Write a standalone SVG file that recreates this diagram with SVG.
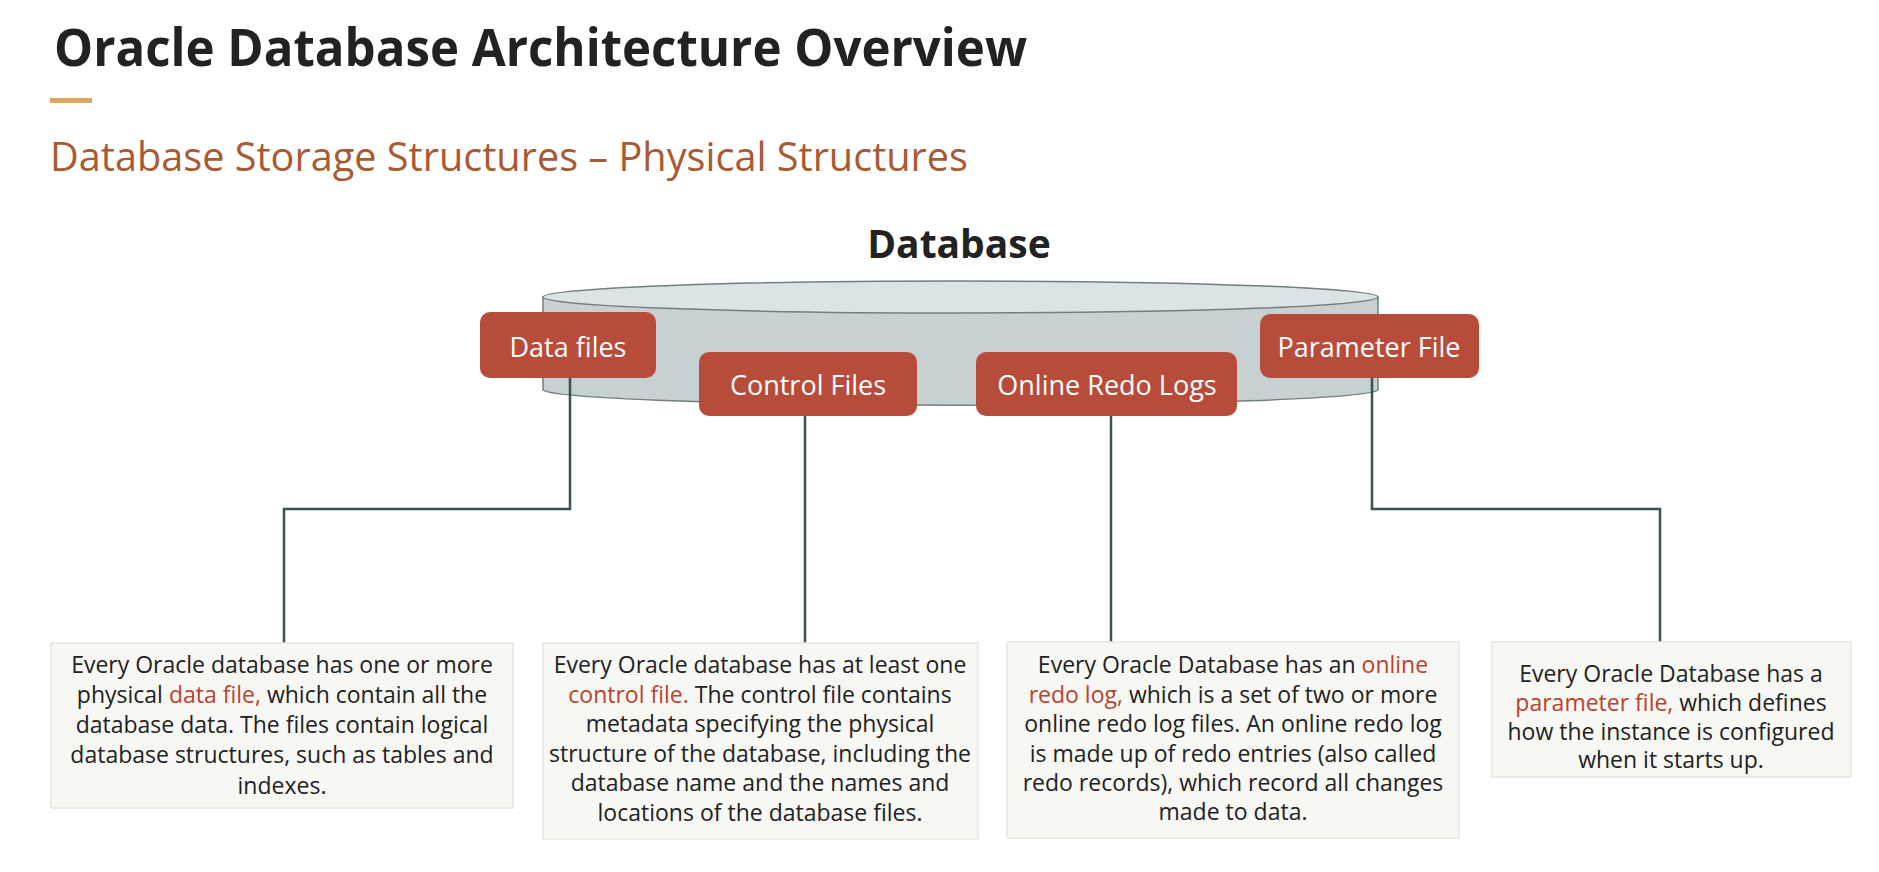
<svg xmlns="http://www.w3.org/2000/svg" width="1879" height="872" viewBox="0 0 1879 872">
<style>
.title{font-family:"Open Sans","Noto Sans",sans-serif;font-weight:700;fill:#222;}
.sub{font-family:"Open Sans","Noto Sans",sans-serif;font-weight:400;fill:#a85a33;}
.lbl{font-family:"Open Sans","Noto Sans",sans-serif;font-size:27px;fill:#fff;text-anchor:middle;}
.red{fill:#b84c3b;}
.desc{fill:#f7f7f4;stroke:#e6e6e1;stroke-width:1.5;}
.body{font-family:"Open Sans","Noto Sans",sans-serif;font-size:23px;fill:#222;text-anchor:middle;}
.hl{fill:#b8432f;}
.conn{fill:none;stroke:#3b5253;stroke-width:2.5;}
</style>
<rect width="1879" height="872" fill="#fff"/>
<g id="header">
<text class="title" x="54" y="66" font-size="52" textLength="973" lengthAdjust="spacingAndGlyphs">Oracle Database Architecture Overview</text>
<rect x="50" y="98" width="42" height="5" fill="#d9a75d"/>
<text class="sub" x="50" y="171" font-size="40" textLength="918" lengthAdjust="spacingAndGlyphs">Database Storage Structures – Physical Structures</text>
</g>
<g id="database">
<text class="title" x="959" y="258" font-size="39" text-anchor="middle">Database</text>
<path d="M543 297 L543 390 A418 16 0 0 0 1378 390 L1378 297 Z" fill="#c7d1d2" stroke="#71807f" stroke-width="1.5"/>
<ellipse cx="960.5" cy="297" rx="417.5" ry="16" fill="#dce3e4" stroke="#71807f" stroke-width="1.5"/>
</g>
<g id="connectors">
<polyline class="conn" points="570,378 570,509 284,509 284,643"/>
<polyline class="conn" points="805,416 805,643"/>
<polyline class="conn" points="1111,416 1111,643"/>
<polyline class="conn" points="1372,378 1372,509 1660,509 1660,642"/>
</g>
<g id="data-files">
<rect class="red" x="480" y="312" width="176" height="66" rx="10"/>
<text class="lbl" x="568" y="357">Data files</text>
</g>
<g id="control-files">
<rect class="red" x="699" y="352" width="218" height="64" rx="10"/>
<text class="lbl" x="808" y="395">Control Files</text>
</g>
<g id="online-redo-logs">
<rect class="red" x="976" y="352" width="261" height="64" rx="10"/>
<text class="lbl" x="1107" y="395">Online Redo Logs</text>
</g>
<g id="parameter-file">
<rect class="red" x="1260" y="314" width="219" height="64" rx="10"/>
<text class="lbl" x="1369" y="357">Parameter File</text>
</g>
<g id="desc-data-files">
<rect class="desc" x="51" y="643" width="462" height="165"/>
<text class="body" x="282" y="673">Every Oracle database has one or more</text>
<text class="body" x="282" y="703">physical <tspan class="hl">data file,</tspan> which contain all the</text>
<text class="body" x="282" y="733">database data. The files contain logical</text>
<text class="body" x="282" y="763">database structures, such as tables and</text>
<text class="body" x="282" y="794">indexes.</text>
</g>
<g id="desc-control-files">
<rect class="desc" x="543" y="643" width="435" height="196"/>
<text class="body" x="760" y="673">Every Oracle database has at least one</text>
<text class="body" x="760" y="703"><tspan class="hl">control file.</tspan> The control file contains</text>
<text class="body" x="760" y="732">metadata specifying the physical</text>
<text class="body" x="760" y="762">structure of the database, including the</text>
<text class="body" x="760" y="791">database name and the names and</text>
<text class="body" x="760" y="821">locations of the database files.</text>
</g>
<g id="desc-online-redo-logs">
<rect class="desc" x="1007" y="642" width="452" height="196"/>
<text class="body" x="1233" y="673">Every Oracle Database has an <tspan class="hl">online</tspan></text>
<text class="body" x="1233" y="703"><tspan class="hl">redo log,</tspan> which is a set of two or more</text>
<text class="body" x="1233" y="732">online redo log files. An online redo log</text>
<text class="body" x="1233" y="762">is made up of redo entries (also called</text>
<text class="body" x="1233" y="791">redo records), which record all changes</text>
<text class="body" x="1233" y="820">made to data.</text>
</g>
<g id="desc-parameter-file">
<rect class="desc" x="1492" y="642" width="359" height="135"/>
<text class="body" x="1671" y="682">Every Oracle Database has a</text>
<text class="body" x="1671" y="711"><tspan class="hl">parameter file,</tspan> which defines</text>
<text class="body" x="1671" y="740">how the instance is configured</text>
<text class="body" x="1671" y="768">when it starts up.</text>
</g>
</svg>
